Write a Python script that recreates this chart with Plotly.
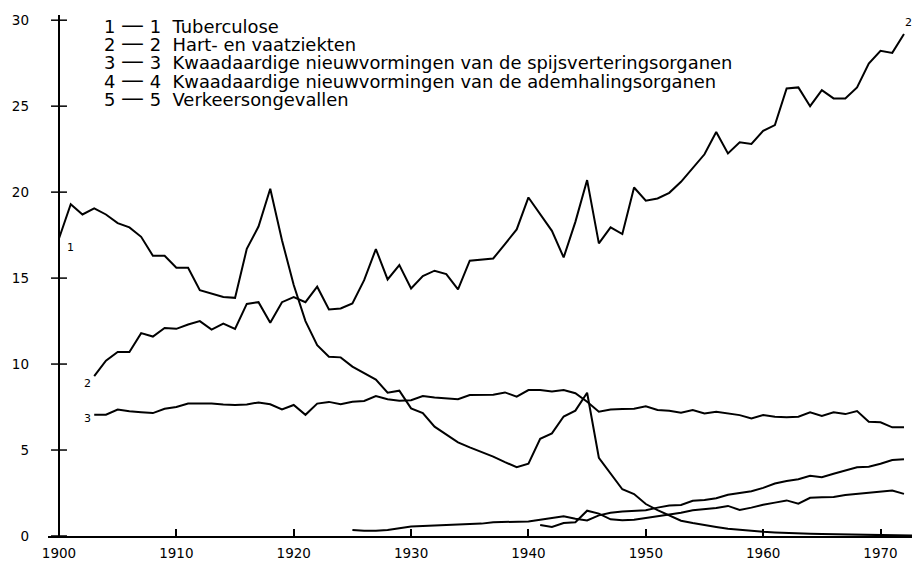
import plotly.graph_objects as go

# ---------------- data ----------------
years_1 = list(range(1900, 1974))
tuberculose = [17.3, 19.3, 18.7, 19.05, 18.7, 18.2, 17.95, 17.4, 16.3, 16.3,
               15.6, 15.6, 14.3, 14.1, 13.9, 13.85, 16.7, 18.0, 20.2, 17.2,
               14.6, 12.5, 11.1, 10.43, 10.39, 9.85, 9.45, 9.1, 8.33, 8.45,
               7.42, 7.15, 6.36, 5.9, 5.45, 5.15, 4.9, 4.62, 4.3, 4.0,
               4.2, 5.65, 5.97, 6.95, 7.29, 8.33, 4.55, 3.6, 2.72, 2.44,
               1.86, 1.51, 1.22, 0.89, 0.75, 0.62, 0.52, 0.42, 0.35, 0.29,
               0.25, 0.21, 0.17, 0.15, 0.13, 0.11, 0.1, 0.08, 0.07, 0.06,
               0.05, 0.04, 0.03, 0.02]

years_2 = list(range(1903, 1973))
hart_vaat = [9.3, 10.2, 10.7, 10.7, 11.8, 11.6, 12.1, 12.05, 12.3, 12.5,
             12.0, 12.35, 12.05, 13.5, 13.6, 12.4, 13.6, 13.9, 13.6, 14.5,
             13.17, 13.23, 13.53, 14.88, 16.69, 14.92, 15.76, 14.4, 15.12, 15.43,
             15.23, 14.34, 16.01, 16.09, 16.14, 16.98, 17.83, 19.69, 18.7, 17.75,
             16.2, 18.27, 20.7, 17.02, 17.95, 17.56, 20.27, 19.5, 19.63, 19.96,
             20.6, 21.4, 22.2, 23.5, 22.25, 22.9, 22.8, 23.57, 23.9, 26.03,
             26.09, 25.0, 25.93, 25.45, 25.45, 26.09, 27.48, 28.22, 28.1, 29.2]

years_3 = list(range(1903, 1973))
spijsvertering = [7.05, 7.05, 7.35, 7.25, 7.2, 7.15, 7.4, 7.5, 7.7, 7.7,
                  7.7, 7.65, 7.62, 7.65, 7.77, 7.66, 7.36, 7.62, 7.05, 7.7,
                  7.8, 7.67, 7.81, 7.85, 8.14, 7.95, 7.87, 7.9, 8.14, 8.06,
                  8.0, 7.95, 8.2, 8.2, 8.22, 8.35, 8.1, 8.49, 8.49, 8.4,
                  8.49, 8.3, 7.81, 7.23, 7.36, 7.38, 7.4, 7.55, 7.33, 7.29,
                  7.17, 7.33, 7.13, 7.23, 7.13, 7.03, 6.84, 7.03, 6.94, 6.9,
                  6.94, 7.19, 6.98, 7.19, 7.09, 7.27, 6.65, 6.61, 6.32, 6.32]

years_4 = list(range(1925, 1973))
ademhaling = [0.35, 0.3, 0.3, 0.35, 0.45, 0.55, 0.58, 0.6, 0.65, 0.68,
              0.7, 0.72, 0.8, 0.82, 0.82, 0.85, 0.95, 1.05, 1.15, 1.0,
              0.9, 1.2, 1.35, 1.42, 1.45, 1.5, 1.65, 1.78, 1.8, 2.05,
              2.1, 2.2, 2.4, 2.5, 2.6, 2.8, 3.05, 3.2, 3.3, 3.5,
              3.42, 3.62, 3.8, 4.0, 4.03, 4.2, 4.42, 4.46]

years_5 = list(range(1941, 1973))
verkeer = [0.64, 0.52, 0.75, 0.8, 1.47, 1.3, 0.97, 0.92, 0.95, 1.05,
           1.15, 1.22, 1.35, 1.5, 1.57, 1.63, 1.75, 1.52, 1.65, 1.82,
           1.94, 2.07, 1.88, 2.22, 2.25, 2.27, 2.38, 2.45, 2.5, 2.58,
           2.65, 2.45]

legend_nums = ["1", "2", "3", "4", "5"]
legend_texts = ["Tuberculose",
                "Hart- en vaatziekten",
                "Kwaadaardige nieuwvormingen van de spijsverteringsorganen",
                "Kwaadaardige nieuwvormingen van de ademhalingsorganen",
                "Verkeersongevallen"]

x_ticks = [1900, 1910, 1920, 1930, 1940, 1950, 1960, 1970]
y_ticks = [0, 5, 10, 15, 20, 25, 30]

# ---------------- layout helpers ----------------
W, H = 912, 561
ML, MR, MT, MB = 48, 0, 3, 25
PW, PH = W - ML - MR, H - MT - MB


def px(xp):
    return (xp - ML) / PW


def py(yp):
    return (H - MB - yp) / PH


FONT = "DejaVu Sans"

fig = go.Figure()
for xs, ys in [(years_1, tuberculose), (years_2, hart_vaat), (years_3, spijsvertering),
               (years_4, ademhaling), (years_5, verkeer)]:
    fig.add_trace(go.Scatter(x=xs, y=ys, mode="lines",
                             line=dict(color="black", width=2),
                             showlegend=False, hoverinfo="skip"))

shapes = []
# y axis line
shapes.append(dict(type="line", xref="x", yref="y", x0=1900, x1=1900, y0=0, y1=30.3,
                   line=dict(color="black", width=2)))
# cross ticks on y axis
for t in y_ticks:
    shapes.append(dict(type="line", xref="x", yref="y", x0=1899.32, x1=1900.68, y0=t, y1=t,
                       line=dict(color="black", width=1.5)))

annotations = []
row_y = [25, 43, 61.5, 80, 98.5]
lf = dict(family=FONT, size=17.9, color="black")
NB = "\u00A0"
for n, txt, yy in zip(legend_nums, legend_texts, row_y):
    annotations.append(dict(xref="paper", yref="paper", x=px(103), y=py(yy),
                            xanchor="left", yanchor="middle", showarrow=False, borderpad=0,
                            text=f'{n} <span style="font-size:23px">—</span> {n}{NB}{NB}{txt}',
                            font=lf))

# curve labels
for lab, xx, yy in [("1", 70, 247), ("2", 87, 383), ("3", 87, 418), ("2", 908, 22)]:
    annotations.append(dict(xref="paper", yref="paper", x=px(xx), y=py(yy),
                            xanchor="center", yanchor="middle", showarrow=False,
                            text=lab, font=dict(family=FONT, size=11, color="black")))

x_left = 1900 - 11 / 11.736
x_right = 1900 + (W - 59) / 11.736

fig.update_layout(
    width=W, height=H,
    margin=dict(l=ML, r=MR, t=MT, b=MB),
    paper_bgcolor="white", plot_bgcolor="white",
    shapes=shapes, annotations=annotations,
    xaxis=dict(range=[x_left, x_right], tickvals=x_ticks, ticktext=[str(v) for v in x_ticks],
               showgrid=False, zeroline=False, showline=True, linecolor="black", linewidth=2,
               ticks="inside", ticklen=7, tickwidth=2, tickcolor="black",
               tickfont=dict(family=FONT, size=13.5, color="black"), ticklabelstandoff=4),
    yaxis=dict(range=[0, 31], tickvals=y_ticks, ticktext=[str(v) for v in y_ticks],
               showgrid=False, zeroline=False, showline=False, ticks="",
               tickfont=dict(family=FONT, size=13.5, color="black"), ticklabelstandoff=18),
)

fig.write_html("out.html", config={"displayModeBar": False},
               post_script="document.body.style.margin='0';document.body.style.overflow='hidden';")
